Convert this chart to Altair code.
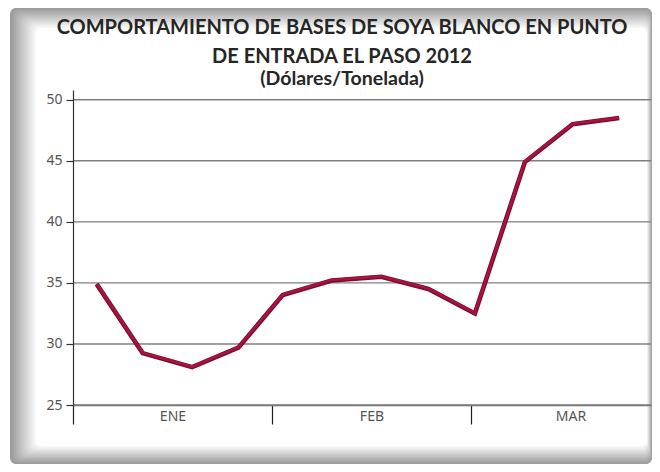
import altair as alt
import pandas as pd

# ---- data ----
week_pos = [0.119, 0.350, 0.599, 0.831, 1.054, 1.300, 1.550, 1.786, 2.020, 2.271, 2.511, 2.745]
soy_basis = [34.9, 29.25, 28.1, 29.7, 34.0, 35.2, 35.5, 34.5, 32.5, 44.9, 48.0, 48.5]
months = ["ENE", "FEB", "MAR"]
y_ticks = [25, 30, 35, 40, 45, 50]

title_lines = ["COMPORTAMIENTO DE BASES DE SOYA BLANCO EN PUNTO", "DE ENTRADA EL PASO 2012"]
subtitle = "(Dólares/Tonelada)"

W, H = 578, 315
XMAX = 2.905
YDOM = [25, 50.8]

df = pd.DataFrame({"pos": week_pos, "val": soy_basis})
grid_df = pd.DataFrame({"v": y_ticks})
one = pd.DataFrame({"a": [0]})

x_vals = []
for i, m in enumerate(months):
    x_vals += [float(i), i + 0.5]
label_expr = "".join(f"datum.value == {i + 0.5} ? '{m}' : " for i, m in enumerate(months)) + "''"

x_scale = alt.Scale(domain=[0, XMAX], nice=False, zero=False)
y_scale = alt.Scale(domain=YDOM, nice=False, zero=False)

# ---- decorative grey bevelled frame (background only) ----
OL, OR, OT, OB = -63, 579, -82, 374
IL, IR, IT, IB = -37, 574, -62, 356
N = 14
frame_layers = []
for k in range(N):
    t = k / (N - 1)
    g = int(0x9c + (0xff - 0x9c) * t)
    col = f"#{g:02x}{g:02x}{g:02x}"
    frame_layers.append(
        alt.Chart(one).mark_rect(color=col, cornerRadius=6).encode(
            x=alt.value(OL + (IL - OL) * t),
            x2=alt.value(OR + (IR - OR) * t),
            y=alt.value(OT + (IT - OT) * t),
            y2=alt.value(OB + (IB - OB) * t),
        )
    )

grid = alt.Chart(grid_df).mark_rule(color="#808080", strokeWidth=1.4).encode(
    y=alt.Y("v:Q", scale=y_scale),
    x=alt.value(0),
    x2=alt.value(W),
)

base = alt.Chart(df).encode(
    x=alt.X(
        "pos:Q",
        scale=x_scale,
        axis=alt.Axis(
            values=x_vals,
            labelExpr=label_expr,
            title=None,
            grid=False,
            domainColor="#777777",
            domainWidth=1.5,
            tickColor="#222222",
            tickWidth=1.2,
            tickSize=19,
            tickOpacity={"condition": {"test": "datum.value % 1 != 0", "value": 0}, "value": 1},
            labelPadding=-15,
            labelFont="Noto Sans",
            labelFontSize=14,
            labelColor="#555555",
            labelFlush=False,
            labelOverlap=False,
            zindex=1,
        ),
    ),
    y=alt.Y(
        "val:Q",
        scale=y_scale,
        axis=alt.Axis(
            values=y_ticks,
            title=None,
            grid=False,
            domainColor="#333333",
            domainWidth=1.2,
            tickColor="#333333",
            tickWidth=1.2,
            tickSize=7,
            labelPadding=4,
            labelFont="Noto Sans",
            labelFontSize=14,
            labelColor="#555555",
            zindex=1,
        ),
    ),
)

line_dark = base.mark_line(color="#7a0a2d", strokeWidth=4.6)
line_light = base.mark_line(color="#a5153f", strokeWidth=2.6, yOffset=-0.4)

chart = alt.layer(*frame_layers, grid, line_dark, line_light).properties(
    width=W,
    height=H,
    autosize=alt.AutoSizeParams(type="none"),
    padding={"left": 65, "top": 82, "right": 1, "bottom": 59},
    background="white",
    title=alt.TitleParams(
        text=title_lines,
        subtitle=subtitle,
        font="Lato",
        fontSize=20,
        fontWeight="bold",
        color="#262626",
        lineHeight=29,
        subtitleFont="Lato",
        subtitleFontSize=19.5,
        subtitleFontWeight="bold",
        subtitleColor="#262626",
        subtitlePadding=3,
        anchor="middle",
        dx=-20,
        offset=-80,
        zindex=1,
    ),
).configure_view(stroke=None)

chart.save("out.html", embed_options={"renderer": "svg", "actions": False})
